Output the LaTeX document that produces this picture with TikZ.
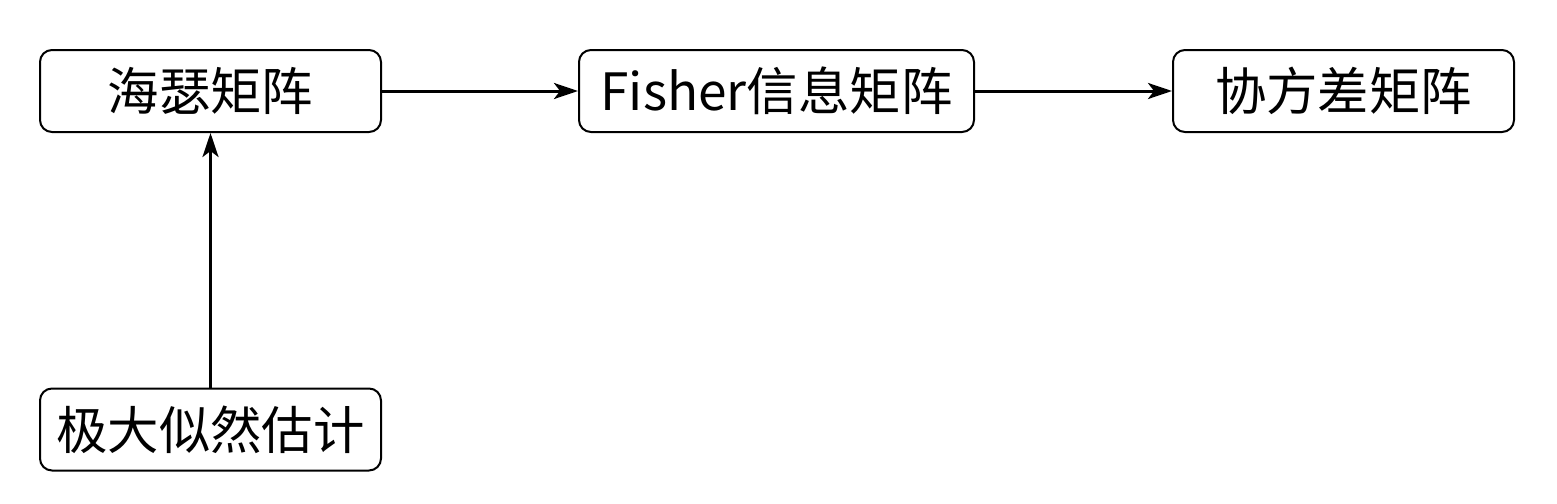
\documentclass[tikz,border=0pt]{standalone}
\usepackage{fontspec}
\setmainfont{Noto Sans CJK SC}
\usetikzlibrary{arrows.meta}
\begin{document}
\begin{tikzpicture}[x=0.5pt, y=-0.5pt, line width=1.5pt, >={Stealth[length=12pt,width=8pt,inset=3pt]}, main node/.style={rectangle,rounded corners=6pt,draw,line width=1pt,minimum width=170.5pt,minimum height=41pt,inner sep=0pt,font=\fontsize{25.7}{30}\selectfont}]
\useasboundingbox (0,0) rectangle (1557,503);
\begin{scope}[every node/.style={main node}]
\node (hessian) at (210.5,91) {海瑟矩阵};
\node (fisher) at (776.5,91) [minimum width=197.5pt] {Fisher信息矩阵};
\node (cov) at (1343.5,91) {协方差矩阵};
\node (mle) at (210.5,429.5) {极大似然估计};
\end{scope}
\path[->]
	(hessian) edge (fisher)
    (fisher) edge (cov)
    (mle) edge (hessian)
         ;
\end{tikzpicture}
\end{document}
